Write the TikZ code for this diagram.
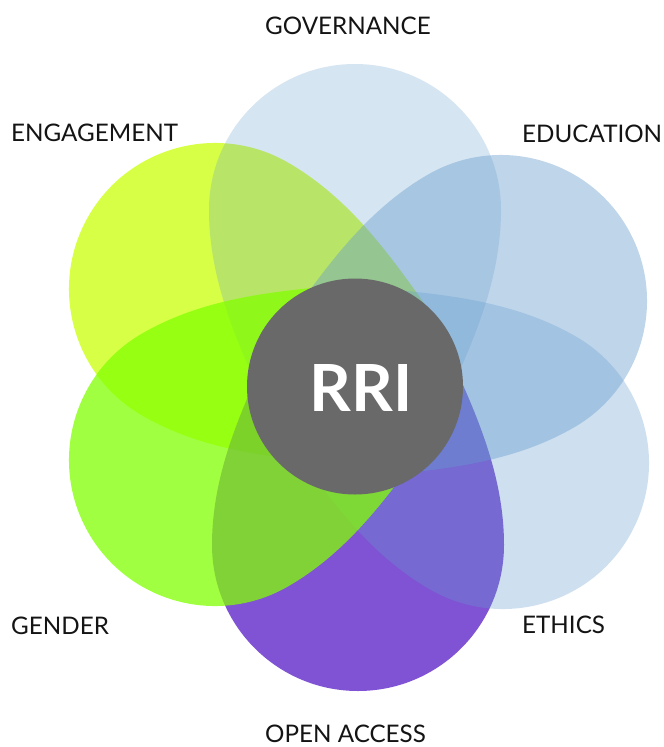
\documentclass[tikz,border=0pt]{standalone}
\usepackage{fontspec}
\setmainfont{Lato}
\definecolor{engC}{RGB}{200,255,5}
\definecolor{genC}{RGB}{129,255,0}
\definecolor{oaC}{RGB}{83,23,196}
\definecolor{blueC}{RGB}{100,155,205}
\definecolor{rriC}{RGB}{105,105,105}
\definecolor{labC}{RGB}{20,20,20}
\tikzset{
  pics/petal/.style args={#1/#2}{code={
    \fill[#1, fill opacity=#2] (146,0)
      .. controls (146,70) and (118.1,132) .. (90.5,192)
      .. controls (76.7,222) and (45,262) .. (0,262)
      .. controls (-45,262) and (-76.7,222) .. (-90.5,192)
      .. controls (-118.1,132) and (-146,70) .. (-146,0)
      arc[start angle=180, end angle=360, radius=146] -- cycle;
  }},
  lab/.style={text=labC, font=\fontsize{24.2}{28}\selectfont, inner sep=0pt, anchor=base west}
}
\begin{document}
\begin{tikzpicture}[x=1pt,y=-1pt]
\useasboundingbox[fill=white] (0,0) rectangle (664,747);
% petals
\pic[rotate=60] at (215,289) {petal={engC/0.74}};
\pic[rotate=0] at (355,210) {petal={blueC/0.26}};
\pic[rotate=180] at (358,545) {petal={oaC/0.74}};
\pic[rotate=-120] at (503,463) {petal={blueC/0.31}};
\pic[rotate=-60] at (501,301) {petal={blueC/0.41}};
\pic[rotate=120] at (215,460) {petal={genC/0.74}};
% centre
\node[circle, fill=rriC, minimum size=216pt, inner sep=0pt] (rri) at (355,386.5) {};
\node[text=white, font=\bfseries\fontsize{65}{65}\selectfont, inner sep=0pt] (rritext) at (361,388) {RRI};
% labels
\node[lab] (gov) at (265,34) {GOVERNANCE};
\node[lab] (eng) at (11,141) {ENGAGEMENT};
\node[lab] (edu) at (522,142) {EDUCATION};
\node[lab] (gen) at (11,634) {GENDER};
\node[lab] (eth) at (522,633) {ETHICS};
\node[lab] (oa) at (265,742) {OPEN ACCESS};
\end{tikzpicture}
\end{document}
